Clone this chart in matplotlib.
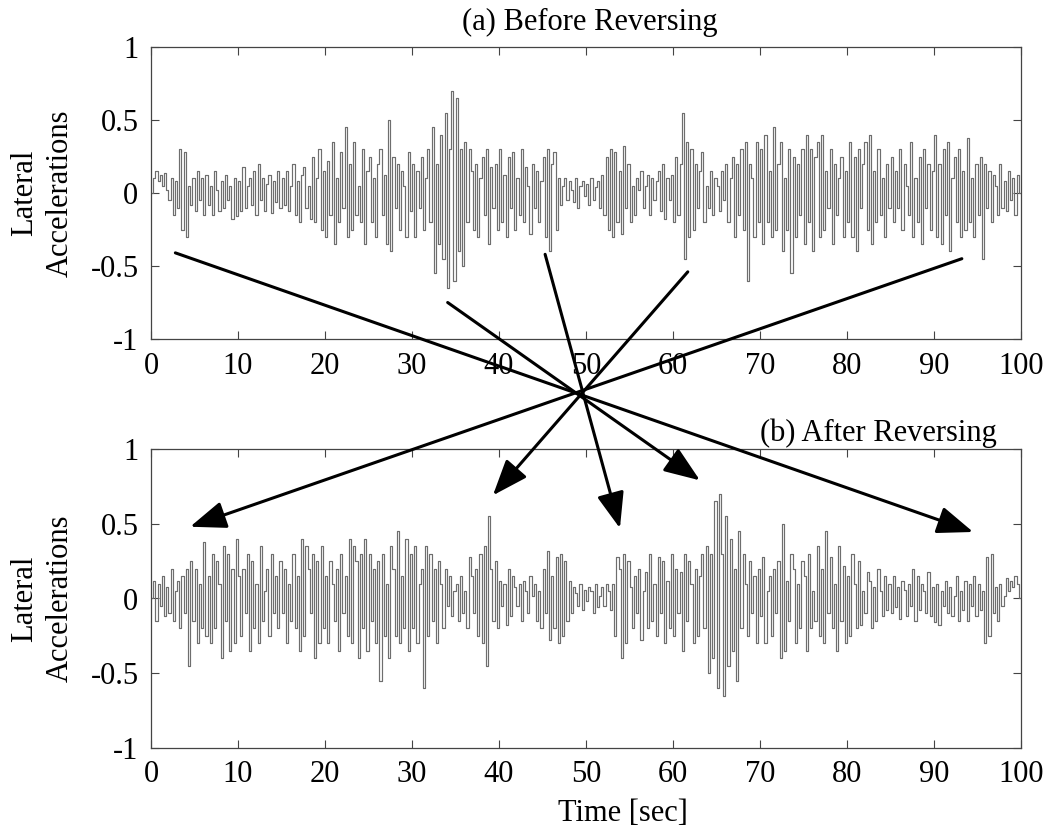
import numpy as np
import matplotlib
matplotlib.use("Agg")
import matplotlib.pyplot as plt
from matplotlib.patches import ConnectionPatch

plt.rcParams['font.family'] = ['Liberation Serif', 'DejaVu Serif']

# ---------------- data ----------------
dt = 0.25  # sample period [sec]
accel_before = [
    0.0, 0.1, 0.15, 0.08, 0.12, 0.05, 0.14, 0.02, -0.05, 0.1, -0.15, 0.08, -0.1, 0.3, -0.25, 0.28, -0.3, 0.05, -0.08, 0.1,
    -0.12, 0.15, -0.05, 0.1, -0.15, 0.12, -0.08, 0.05, -0.15, 0.15, 0.02, -0.12, 0.08, -0.1, 0.12, -0.05, 0.05, -0.18, 0.1, -0.16,
    0.08, -0.12, 0.18, -0.1, 0.05, 0.1, -0.08, 0.15, -0.15, 0.2, -0.05, 0.1, -0.12, 0.06, 0.12, -0.14, 0.08, -0.06, 0.15, -0.1,
    0.1, -0.08, 0.15, -0.12, 0.05, 0.2, -0.15, 0.08, -0.2, 0.12, 0.18, -0.1, 0.05, -0.18, 0.25, -0.2, 0.1, 0.3, -0.25, 0.15,
    -0.3, 0.22, -0.15, 0.35, -0.35, 0.1, -0.2, 0.28, -0.1, 0.45, -0.3, 0.2, -0.25, 0.35, -0.15, 0.05, -0.2, 0.3, -0.35, 0.15,
    0.25, -0.2, 0.1, -0.3, 0.2, 0.3, -0.15, 0.12, -0.35, 0.5, -0.4, 0.25, -0.1, 0.2, -0.25, 0.15, 0.05, -0.3, 0.28, -0.12,
    0.2, -0.3, 0.15, -0.1, 0.25, -0.25, 0.1, 0.3, -0.2, 0.45, -0.55, 0.2, -0.35, 0.4, -0.45, 0.55, -0.65, 0.3, 0.7, -0.6,
    0.65, -0.4, 0.3, -0.5, 0.35, -0.2, 0.3, 0.15, -0.25, 0.2, -0.3, 0.1, 0.25, -0.15, 0.3, -0.35, 0.18, -0.1, 0.2, -0.25,
    0.3, -0.2, 0.12, -0.3, 0.25, -0.1, 0.28, -0.25, 0.1, -0.15, 0.3, -0.2, 0.18, 0.05, -0.28, 0.2, -0.1, 0.15, -0.2, 0.08,
    0.25, -0.3, 0.3, -0.4, 0.2, 0.28, -0.25, 0.1, -0.08, 0.05, 0.1, -0.05, 0.08, 0.02, -0.06, 0.1, -0.1, 0.05, 0.08, -0.02,
    0.06, -0.08, 0.1, -0.05, 0.04, 0.08, -0.1, 0.12, -0.15, 0.25, -0.25, 0.3, -0.3, 0.28, -0.2, 0.15, -0.28, 0.32, -0.1, 0.2,
    -0.2, 0.05, -0.15, 0.1, 0.02, 0.15, -0.1, 0.05, 0.12, -0.15, 0.1, -0.05, 0.08, 0.15, -0.12, 0.2, -0.18, 0.1, -0.05, 0.12,
    -0.2, 0.25, -0.15, 0.2, 0.55, -0.45, 0.35, -0.3, 0.3, -0.25, 0.2, -0.1, 0.15, 0.28, -0.2, 0.05, -0.1, 0.15, -0.15, 0.1,
    0.05, -0.12, 0.15, -0.05, 0.2, -0.2, 0.1, 0.25, -0.3, 0.2, -0.15, 0.3, -0.25, 0.35, -0.6, 0.2, 0.1, -0.3, 0.35, -0.2,
    0.3, -0.35, 0.4, -0.2, 0.15, -0.3, 0.45, -0.25, 0.2, 0.35, -0.4, 0.1, -0.25, 0.3, -0.55, 0.25, -0.3, 0.2, -0.15, 0.3,
    -0.35, 0.4, -0.2, 0.3, -0.4, 0.25, 0.35, -0.3, 0.4, -0.25, 0.15, -0.1, 0.3, -0.35, 0.2, -0.15, 0.1, 0.25, -0.3, 0.15,
    -0.2, 0.35, -0.3, 0.25, -0.4, 0.3, -0.1, 0.2, 0.35, -0.25, 0.4, -0.35, 0.15, -0.2, 0.3, -0.15, 0.1, -0.3, 0.2, -0.1,
    0.25, -0.2, 0.15, -0.1, 0.3, -0.25, 0.2, 0.05, -0.15, 0.35, -0.3, 0.1, -0.2, 0.25, -0.35, 0.3, -0.1, 0.2, -0.25, 0.15,
    0.4, -0.3, 0.2, -0.35, 0.3, -0.15, 0.35, -0.4, 0.1, 0.25, -0.2, 0.3, -0.3, 0.15, -0.25, 0.38, -0.2, 0.1, -0.3, 0.2,
    -0.15, 0.25, -0.45, 0.2, -0.1, 0.15, -0.2, 0.12, 0.05, -0.15, 0.2, -0.1, 0.08, -0.12, 0.15, -0.05, 0.1, -0.15, 0.12, 0.0,
]
accel_after = accel_before[::-1]   # time-reversed record

x_ticks = [0, 10, 20, 30, 40, 50, 60, 70, 80, 90, 100]
y_ticks = [-1, -0.5, 0, 0.5, 1]
y_ticklabels = ['-1', '-0.5', '0', '0.5', '1']

# arrow tails (top panel data coords) and heads (bottom panel data coords)
arrow_tails = [(2.8, -0.41), (93.2, -0.45), (61.7, -0.54), (45.3, -0.42), (34.1, -0.75)]
arrow_heads = [(94.5, 0.445), (4.5, 0.48), (39.3, 0.69), (53.9, 0.47), (63.1, 0.79)]

# ---------------- figure ----------------
W, H = 1050, 830
fig = plt.figure(figsize=(W / 100, H / 100), dpi=100)

def px_axes(left, top, right, bottom):
    return [left / W, 1 - bottom / H, (right - left) / W, (bottom - top) / H]

ax1 = fig.add_axes(px_axes(151, 47, 1021, 339))
ax2 = fig.add_axes(px_axes(151, 449, 1021, 748))

sig_color = '#6e6e6e'
spine_color = '#444444'

for ax, vals in ((ax1, accel_before), (ax2, accel_after)):
    n = len(vals)
    t = np.arange(n + 1) * dt
    v = np.append(np.asarray(vals, float), vals[-1])
    ax.plot(t, v, drawstyle='steps-post', color=sig_color, lw=0.85)
    ax.set_xlim(0, 100)
    ax.set_ylim(-1, 1)
    ax.set_xticks(x_ticks)
    ax.set_yticks(y_ticks)
    ax.set_yticklabels(y_ticklabels)
    ax.tick_params(direction='in', top=True, right=True, length=6, width=0.8,
                   color=spine_color, labelsize=22, pad=9)
    for s in ax.spines.values():
        s.set_color(spine_color)
        s.set_linewidth(0.9)

# y labels (two lines, rotated)
for ax in (ax1, ax2):
    pos = ax.get_position()
    fig.text(42 / W, pos.y0 + pos.height / 2, 'Lateral\nAccelerations', rotation=90,
             ha='center', va='center', fontsize=22, linespacing=1.3)

fig.text(590 / W, 1 - 22 / H, '(a) Before Reversing', ha='center', va='center', fontsize=22)
fig.text(878 / W, 1 - 433 / H, '(b) After Reversing', ha='center', va='center', fontsize=22)
fig.text(623 / W, 1 - 813 / H, 'Time [sec]', ha='center', va='center', fontsize=22)

# arrows connecting events in the original record to their reversed positions
for tail, head in zip(arrow_tails, arrow_heads):
    con = ConnectionPatch(xyA=tail, coordsA=ax1.transData, xyB=head, coordsB=ax2.transData,
                          arrowstyle='-|>,head_length=1.1,head_width=0.42', mutation_scale=20,
                          color='black', lw=2.2, shrinkA=0, shrinkB=0, zorder=10)
    fig.add_artist(con)

fig.savefig('out.png', dpi=100)
